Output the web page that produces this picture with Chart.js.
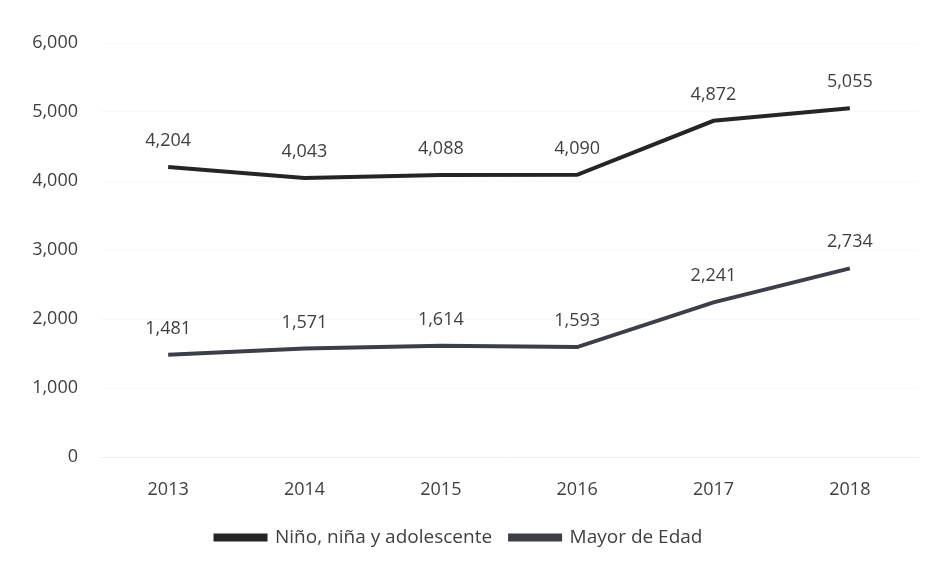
<html lang="es">
<head>
    <meta charset="UTF-8">
    <title>Niño, niña y adolescente / Mayor de Edad</title>
    <script src="https://cdn.jsdelivr.net/npm/chart.js"></script>
    <style>
        body { margin: 0; background: #fff; }
    </style>
</head>
<body>
    <canvas id="grafico" width="933" height="568"></canvas>

    <script>
        // Datos
        const anios = ['2013', '2014', '2015', '2016', '2017', '2018'];
        const ninos = [4204, 4043, 4088, 4090, 4872, 5055];
        const mayores = [1481, 1571, 1614, 1593, 2241, 2734];

        const fuente = "'Open Sans', 'Noto Sans', sans-serif";
        const gris = '#3f3f3f';

        // Etiquetas de valor encima de cada punto
        const etiquetas = {
            id: 'etiquetas',
            afterDatasetsDraw(chart) {
                const ctx = chart.ctx;
                ctx.save();
                ctx.font = '18px ' + fuente;
                ctx.fillStyle = gris;
                ctx.textAlign = 'center';
                ctx.textBaseline = 'middle';
                chart.data.datasets.forEach((ds, i) => {
                    chart.getDatasetMeta(i).data.forEach((pt, j) => {
                        ctx.fillText(ds.data[j].toLocaleString('en-US'), pt.x, pt.y - 26);
                    });
                });
                ctx.restore();
            }
        };

        const ctx = document.getElementById('grafico').getContext('2d');
        new Chart(ctx, {
            type: 'line',
            data: {
                labels: anios,
                datasets: [{
                    label: 'Niño, niña y adolescente',
                    data: ninos,
                    borderColor: '#252525',
                    backgroundColor: '#252525',
                    borderWidth: 4,
                    pointRadius: 0,
                    tension: 0,
                }, {
                    label: 'Mayor de Edad',
                    data: mayores,
                    borderColor: '#3c3f48',
                    backgroundColor: '#3c3f48',
                    borderWidth: 4,
                    pointRadius: 0,
                    tension: 0,
                }]
            },
            options: {
                responsive: false,
                animation: false,
                layout: { padding: { top: 43, right: 15, bottom: 11 } },
                plugins: {
                    legend: {
                        position: 'bottom',
                        labels: {
                            boxWidth: 50,
                            boxHeight: 4,
                            padding: 18,
                            color: gris,
                            font: { family: fuente, size: 19 },
                        },
                    },
                    tooltip: { enabled: false },
                },
                scales: {
                    x: {
                        offset: true,
                        afterFit(axis) { axis.height = 53; },
                        grid: { display: false, drawTicks: false },
                        border: { color: '#eeeeee' },
                        ticks: {
                            color: gris,
                            padding: 22,
                            font: { family: fuente, size: 18 },
                        },
                    },
                    y: {
                        min: 0,
                        max: 6000,
                        afterFit(axis) { axis.width = 100; },
                        grid: { color: '#f8f8f8', drawTicks: false },
                        border: { display: false },
                        ticks: {
                            stepSize: 1000,
                            padding: 22,
                            color: gris,
                            font: { family: fuente, size: 18 },
                            callback: v => v.toLocaleString('en-US'),
                        },
                    },
                },
            },
            plugins: [etiquetas],
        });
    </script>
</body>
</html>
